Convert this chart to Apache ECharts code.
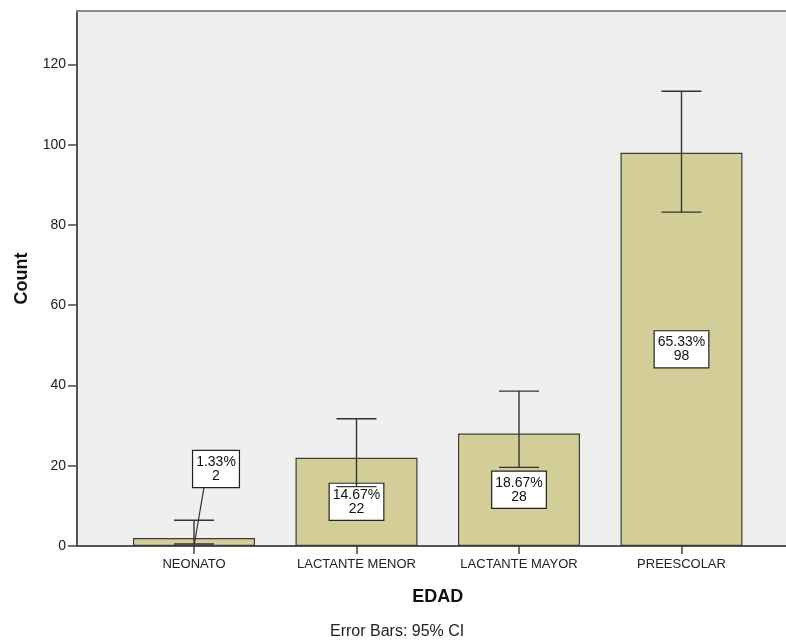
<!DOCTYPE html>
<html>
<head>
<meta charset="utf-8">
<script src="https://cdn.jsdelivr.net/npm/echarts@6/dist/echarts.min.js"></script>
<style>html,body{margin:0;padding:0;background:#fff;}#c{width:786px;height:644px;}</style>
</head>
<body>
<div id="c"></div>
<script>
var categories = ['NEONATO', 'LACTANTE MENOR', 'LACTANTE MAYOR', 'PREESCOLAR'];
var counts = [2, 22, 28, 98];
var percents = ['1.33%', '14.67%', '18.67%', '65.33%'];
var ciLow = [0.5, 14.8, 19.6, 83.2];
var ciHigh = [6.4, 31.7, 38.6, 113.3];
var yTicks = [0, 20, 40, 60, 80, 100, 120];

var FONT = '"Liberation Sans", Arial, sans-serif';
var yMax = 133.3;

var chart = echarts.init(document.getElementById('c'), null, {renderer: 'canvas'});

var errData = categories.map(function (c, i) { return [i, ciLow[i], ciHigh[i]]; });
var labData = categories.map(function (c, i) { return [i, counts[i], percents[i]]; });

var option = {
  animation: false,
  backgroundColor: '#ffffff',
  grid: [
    {left: 77, right: 0, top: 11, bottom: 98, show: true, backgroundColor: '#efefef', borderWidth: 0},
    {left: 112.75, right: 23.25, top: 11, bottom: 98}
  ],
  xAxis: [
    {gridIndex: 0, type: 'value', min: 0, max: 1, position: 'bottom',
     axisLine: {show: true, onZero: false, lineStyle: {color: '#555', width: 2}},
     axisTick: {show: false}, axisLabel: {show: false}, splitLine: {show: false}},
    {gridIndex: 0, type: 'value', min: 0, max: 1, position: 'top',
     axisLine: {show: true, onZero: false, lineStyle: {color: '#8a8a8a', width: 2}},
     axisTick: {show: false}, axisLabel: {show: false}, splitLine: {show: false}},
    {gridIndex: 1, type: 'category', data: categories, position: 'bottom',
     axisLine: {show: false},
     axisTick: {show: true, alignWithLabel: true, length: 8, lineStyle: {color: '#444', width: 1.5}},
     axisLabel: {show: true, color: '#222', fontFamily: FONT, fontSize: 13, margin: 12},
     name: 'EDAD', nameLocation: 'middle', nameGap: 42,
     nameTextStyle: {fontFamily: FONT, fontSize: 18, fontWeight: 'bold', color: '#111'}}
  ],
  yAxis: [
    {gridIndex: 0, type: 'value', min: 0, max: yMax, interval: 20,
     axisLine: {show: true, lineStyle: {color: '#555', width: 2}},
     axisTick: {show: true, length: 9, lineStyle: {color: '#444', width: 1.5},
                customValues: yTicks},
     axisLabel: {color: '#222', fontFamily: FONT, fontSize: 14, margin: 11, customValues: yTicks},
     splitLine: {show: false},
     name: 'Count', nameLocation: 'middle', nameGap: 46, nameRotate: 90,
     nameTextStyle: {fontFamily: FONT, fontSize: 18, fontWeight: 'bold', color: '#111'}},
    {gridIndex: 1, type: 'value', min: 0, max: yMax, show: false}
  ],
  series: [
    {type: 'bar', xAxisIndex: 2, yAxisIndex: 1, data: counts, barWidth: 122,
     itemStyle: {color: '#d3ce98', borderColor: '#3c3c3c', borderWidth: 1.2}, z: 2},
    {type: 'custom', xAxisIndex: 2, yAxisIndex: 1, data: labData, z: 3,
     renderItem: function (params, api) {
       var i = api.value(0), v = api.value(1);
       var txt = percents[i] + '\n' + counts[i];
       var base = api.coord([i, 0]);
       var top = api.coord([i, v]);
       var small = (base[1] - top[1]) < 40;
       var cx, cy;
       if (small) {
         cx = base[0] + 22; cy = top[1] - 69;
       } else {
         var mid = api.coord([i, v / 2]);
         cx = mid[0]; cy = mid[1];
       }
       var children = [];
       if (small) {
         children.push({type: 'line', shape: {x1: cx - 12, y1: cy + 18.5, x2: base[0], y2: base[1]},
           style: {stroke: '#333', lineWidth: 1.2}});
       }
       children.push({type: 'text', x: cx, y: cy,
         style: {text: txt, fill: '#111', font: '14px ' + FONT, lineHeight: 14,
           align: 'center', verticalAlign: 'middle',
           backgroundColor: '#ffffff', borderColor: '#222', borderWidth: 1.2, padding: [4, 3, 4, 3]}});
       return {type: 'group', children: children};
     }},
    {type: 'custom', xAxisIndex: 2, yAxisIndex: 1, data: errData, z: 4,
     renderItem: function (params, api) {
       var i = api.value(0);
       var lo = api.coord([i, api.value(1)]);
       var hi = api.coord([i, api.value(2)]);
       var hw = 20;
       var st = {stroke: '#333', lineWidth: 1.4};
       return {type: 'group', children: [
         {type: 'line', shape: {x1: lo[0], y1: lo[1], x2: hi[0], y2: hi[1]}, style: st},
         {type: 'line', shape: {x1: lo[0] - hw, y1: lo[1], x2: lo[0] + hw, y2: lo[1]}, style: st},
         {type: 'line', shape: {x1: hi[0] - hw, y1: hi[1], x2: hi[0] + hw, y2: hi[1]}, style: st}
       ]};
     }}
  ],
  graphic: [
    {type: 'text', left: 330, top: 624,
     style: {text: 'Error Bars: 95% CI', font: '16px ' + FONT, fill: '#222'}}
  ]
};
chart.setOption(option);
</script>
</body>
</html>
